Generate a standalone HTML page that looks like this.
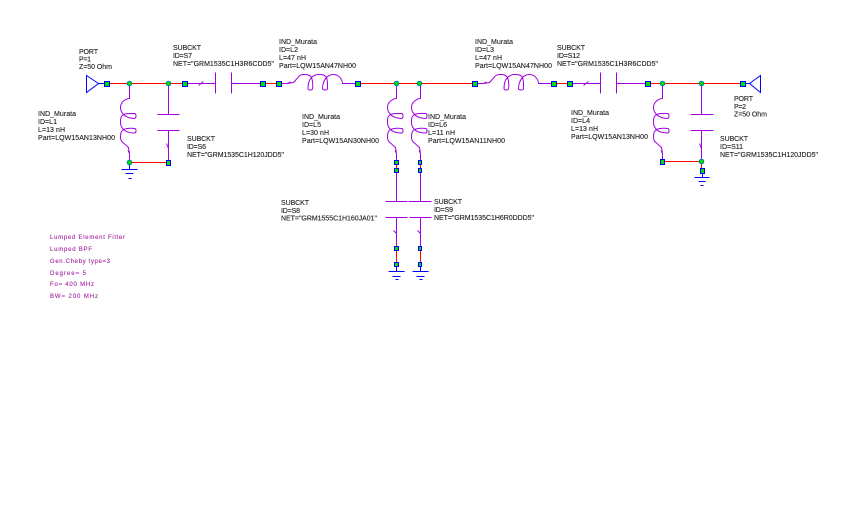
<!DOCTYPE html>
<html><head><meta charset="utf-8"><style>
html,body{margin:0;padding:0;background:#fff;width:864px;height:513px;overflow:hidden}
svg{display:block}
text{font-family:"Liberation Sans",Arial,sans-serif;font-size:7px;fill:#1c1c1c;stroke:#1c1c1c;stroke-width:.12}
.m text{font-size:6px;fill:#a0209f;stroke:#a0209f;stroke-width:.1}
.p{stroke:#a000e0;fill:none}.b{stroke:#0000ff;fill:none}
.r{fill:#ff0000}
.s{fill:#00e000;stroke:#0000ff}
.n{fill:#00e000;stroke:#0080a0}
</style></head><body>
<svg width="864" height="513" viewBox="0 0 864 513" xmlns="http://www.w3.org/2000/svg">
<defs>
<path id="coil" d="M0,0V15C-3,15-9,18-9,24C-9,27-8,29-6,31C-2,29.5 3,30 5,30C7,30 7,34.5 5,35C2,35-3,34-6,31C-9,33-9,35-9,39C-9,42-8,44-6,46C-2,44.5 3,44.5 5,45C7,45 7,49.5 5,49.5C2,49.5-3,49-6,46C-9,48-9,51-9,54C-9,57-7,59-6,59.5L-1,64L0,70L-1.5,67M0,70V79"/>
</defs>
<g transform="translate(.5,.5)">
<!-- blue -->
<g class="b">
<path d="M98,83H106M742,83H749"/>
<path d="M98,83L86,75V92Z"/>
<path d="M749,83L760,75V92Z"/>
<path d="M129,162V169M121,169H137M125,173H133M128,178H131"/>
<path d="M702,170V177M694,177H709M698,181H705M700,185H703"/>
<path d="M396,264V271M388,271H404M392,276H400M395,279H398"/>
<path d="M420,264V271M412,271H428M416,276H424M419,279H422"/>
</g>
<!-- purple -->
<g class="p">
<use href="#coil" transform="translate(129,83)"/>
<use href="#coil" transform="translate(396,83)"/>
<use href="#coil" transform="translate(420,83)"/>
<use href="#coil" transform="translate(662,83)"/>
<use href="#coil" transform="translate(357,83) rotate(90)"/>
<use href="#coil" transform="translate(553,83) rotate(90)"/>
<path d="M184,83H215M215,72V93M231,72V93M231,83H262M198,85L203,81"/>
<path d="M569,83H600M600,72V93M616,72V93M616,83H647M583,85L588,81"/>
<path d="M168,83V114M157,114H179M157,130H179M168,130V162M166,143L168,148"/>
<path d="M701,83V114M690,114H713M690,130H713M701,130V161M699,143L701,148"/>
<path d="M396,170V201M385,201H407M385,217H407M396,217V248M393,230L396,233"/>
<path d="M420,170V201M408,201H431M409,217H431M420,217V248M417,230L420,233"/>
</g>
</g>
<!-- red wires, drawn as solid pixel rows -->
<g class="r">
<rect x="106" y="83" width="78" height="1"/>
<rect x="262" y="83" width="16" height="1"/>
<rect x="357" y="83" width="117" height="1"/>
<rect x="553" y="83" width="16" height="1"/>
<rect x="647" y="83" width="95" height="1"/>
<rect x="129" y="162" width="39" height="1"/>
<rect x="662" y="161" width="39" height="1"/>
<rect x="396" y="248" width="1" height="16"/>
<rect x="420" y="248" width="1" height="16"/>
<rect x="701" y="161" width="1" height="9"/>
<rect x="396" y="162" width="1" height="8"/>
<rect x="420" y="162" width="1" height="8"/>
</g>
<g transform="translate(.5,.5)">
<!-- squares -->
<g class="s">
<rect x="104" y="81" width="5" height="5"/><rect x="182" y="81" width="5" height="5"/>
<rect x="260" y="81" width="5" height="5"/><rect x="276" y="81" width="5" height="5"/>
<rect x="355" y="81" width="5" height="5"/><rect x="472" y="81" width="5" height="5"/>
<rect x="551" y="81" width="5" height="5"/><rect x="567" y="81" width="5" height="5"/>
<rect x="645" y="81" width="5" height="5"/><rect x="740" y="81" width="5" height="5"/>
<rect x="166" y="160" width="4" height="5"/><rect x="660" y="159" width="4" height="5"/>
<rect x="700" y="168" width="4" height="5"/>
<rect x="394" y="160" width="4" height="4"/><rect x="394" y="168" width="4" height="4"/>
<rect x="418" y="160" width="3" height="4"/><rect x="418" y="168" width="3" height="4"/>
<rect x="394" y="246" width="4" height="4"/><rect x="394" y="262" width="4" height="4"/>
<rect x="418" y="246" width="3" height="4"/><rect x="418" y="262" width="3" height="4"/>
</g>
<!-- junctions -->
<g class="n">
<circle cx="129" cy="83" r="2.3"/><circle cx="168" cy="83" r="2.3"/>
<circle cx="396" cy="83" r="2.3"/><circle cx="419" cy="83" r="2.3"/>
<circle cx="662" cy="83" r="2.3"/><circle cx="701" cy="83" r="2.3"/>
<circle cx="129" cy="162" r="2.3"/><circle cx="701" cy="161" r="2.3"/>
</g>
</g>
<!-- labels -->
<text x="79" y="54" textLength="19">PORT</text><text x="79" y="61.5" textLength="12">P=1</text><text x="79" y="69" textLength="33">Z=50 Ohm</text>
<text x="734" y="101" textLength="19">PORT</text><text x="734" y="109" textLength="12">P=2</text><text x="734" y="116.5" textLength="33">Z=50 Ohm</text>

<text x="38" y="116" textLength="38">IND_Murata</text><text x="38" y="124" textLength="19">ID=L1</text><text x="38" y="132" textLength="27">L=13 nH</text><text x="38" y="140" textLength="77">Part=LQW15AN13NH00</text>
<text x="279" y="44" textLength="38">IND_Murata</text><text x="279" y="52" textLength="19">ID=L2</text><text x="279" y="60" textLength="27">L=47 nH</text><text x="279" y="68" textLength="77">Part=LQW15AN47NH00</text>
<text x="475" y="44" textLength="38">IND_Murata</text><text x="475" y="52" textLength="19">ID=L3</text><text x="475" y="60" textLength="27">L=47 nH</text><text x="475" y="68" textLength="77">Part=LQW15AN47NH00</text>
<text x="571" y="115" textLength="38">IND_Murata</text><text x="571" y="123" textLength="19">ID=L4</text><text x="571" y="131" textLength="27">L=13 nH</text><text x="571" y="139" textLength="77">Part=LQW15AN13NH00</text>
<text x="302" y="119" textLength="38">IND_Murata</text><text x="302" y="127" textLength="19">ID=L5</text><text x="302" y="135" textLength="27">L=30 nH</text><text x="302" y="143" textLength="77">Part=LQW15AN30NH00</text>
<text x="428" y="119" textLength="38">IND_Murata</text><text x="428" y="127" textLength="19">ID=L6</text><text x="428" y="135" textLength="27">L=11 nH</text><text x="428" y="143" textLength="77">Part=LQW15AN11NH00</text>

<text x="173" y="50" textLength="28">SUBCKT</text><text x="173" y="58" textLength="19">ID=S7</text><text x="173" y="66" textLength="101">NET="GRM1535C1H3R6CDD5"</text>
<text x="557" y="50" textLength="28">SUBCKT</text><text x="557" y="58" textLength="23">ID=S12</text><text x="557" y="66" textLength="101">NET="GRM1535C1H3R6CDD5"</text>
<text x="187" y="141" textLength="28">SUBCKT</text><text x="187" y="149" textLength="19">ID=S6</text><text x="187" y="157" textLength="97">NET="GRM1535C1H120JDD5"</text>
<text x="720" y="141" textLength="28">SUBCKT</text><text x="720" y="149" textLength="23">ID=S11</text><text x="720" y="157" textLength="98">NET="GRM1535C1H120JDD5"</text>
<text x="281" y="205" textLength="28">SUBCKT</text><text x="281" y="213" textLength="19">ID=S8</text><text x="281" y="220.5" textLength="96">NET="GRM1555C1H160JA01"</text>
<text x="434" y="204" textLength="28">SUBCKT</text><text x="434" y="212" textLength="19">ID=S9</text><text x="434" y="220" textLength="100">NET="GRM1535C1H6R0DDD5"</text>

<g class="m">
<text x="50" y="239" textLength="75">Lumped Element Filter</text>
<text x="50" y="251" textLength="42">Lumped BPF</text>
<text x="50" y="263" textLength="60">Gen.Cheby type=3</text>
<text x="50" y="275" textLength="36">Degree= 5</text>
<text x="50" y="286" textLength="44">Fo= 400 MHz</text>
<text x="50" y="298" textLength="48">BW= 200 MHz</text>
</g>
</svg>
</body></html>
